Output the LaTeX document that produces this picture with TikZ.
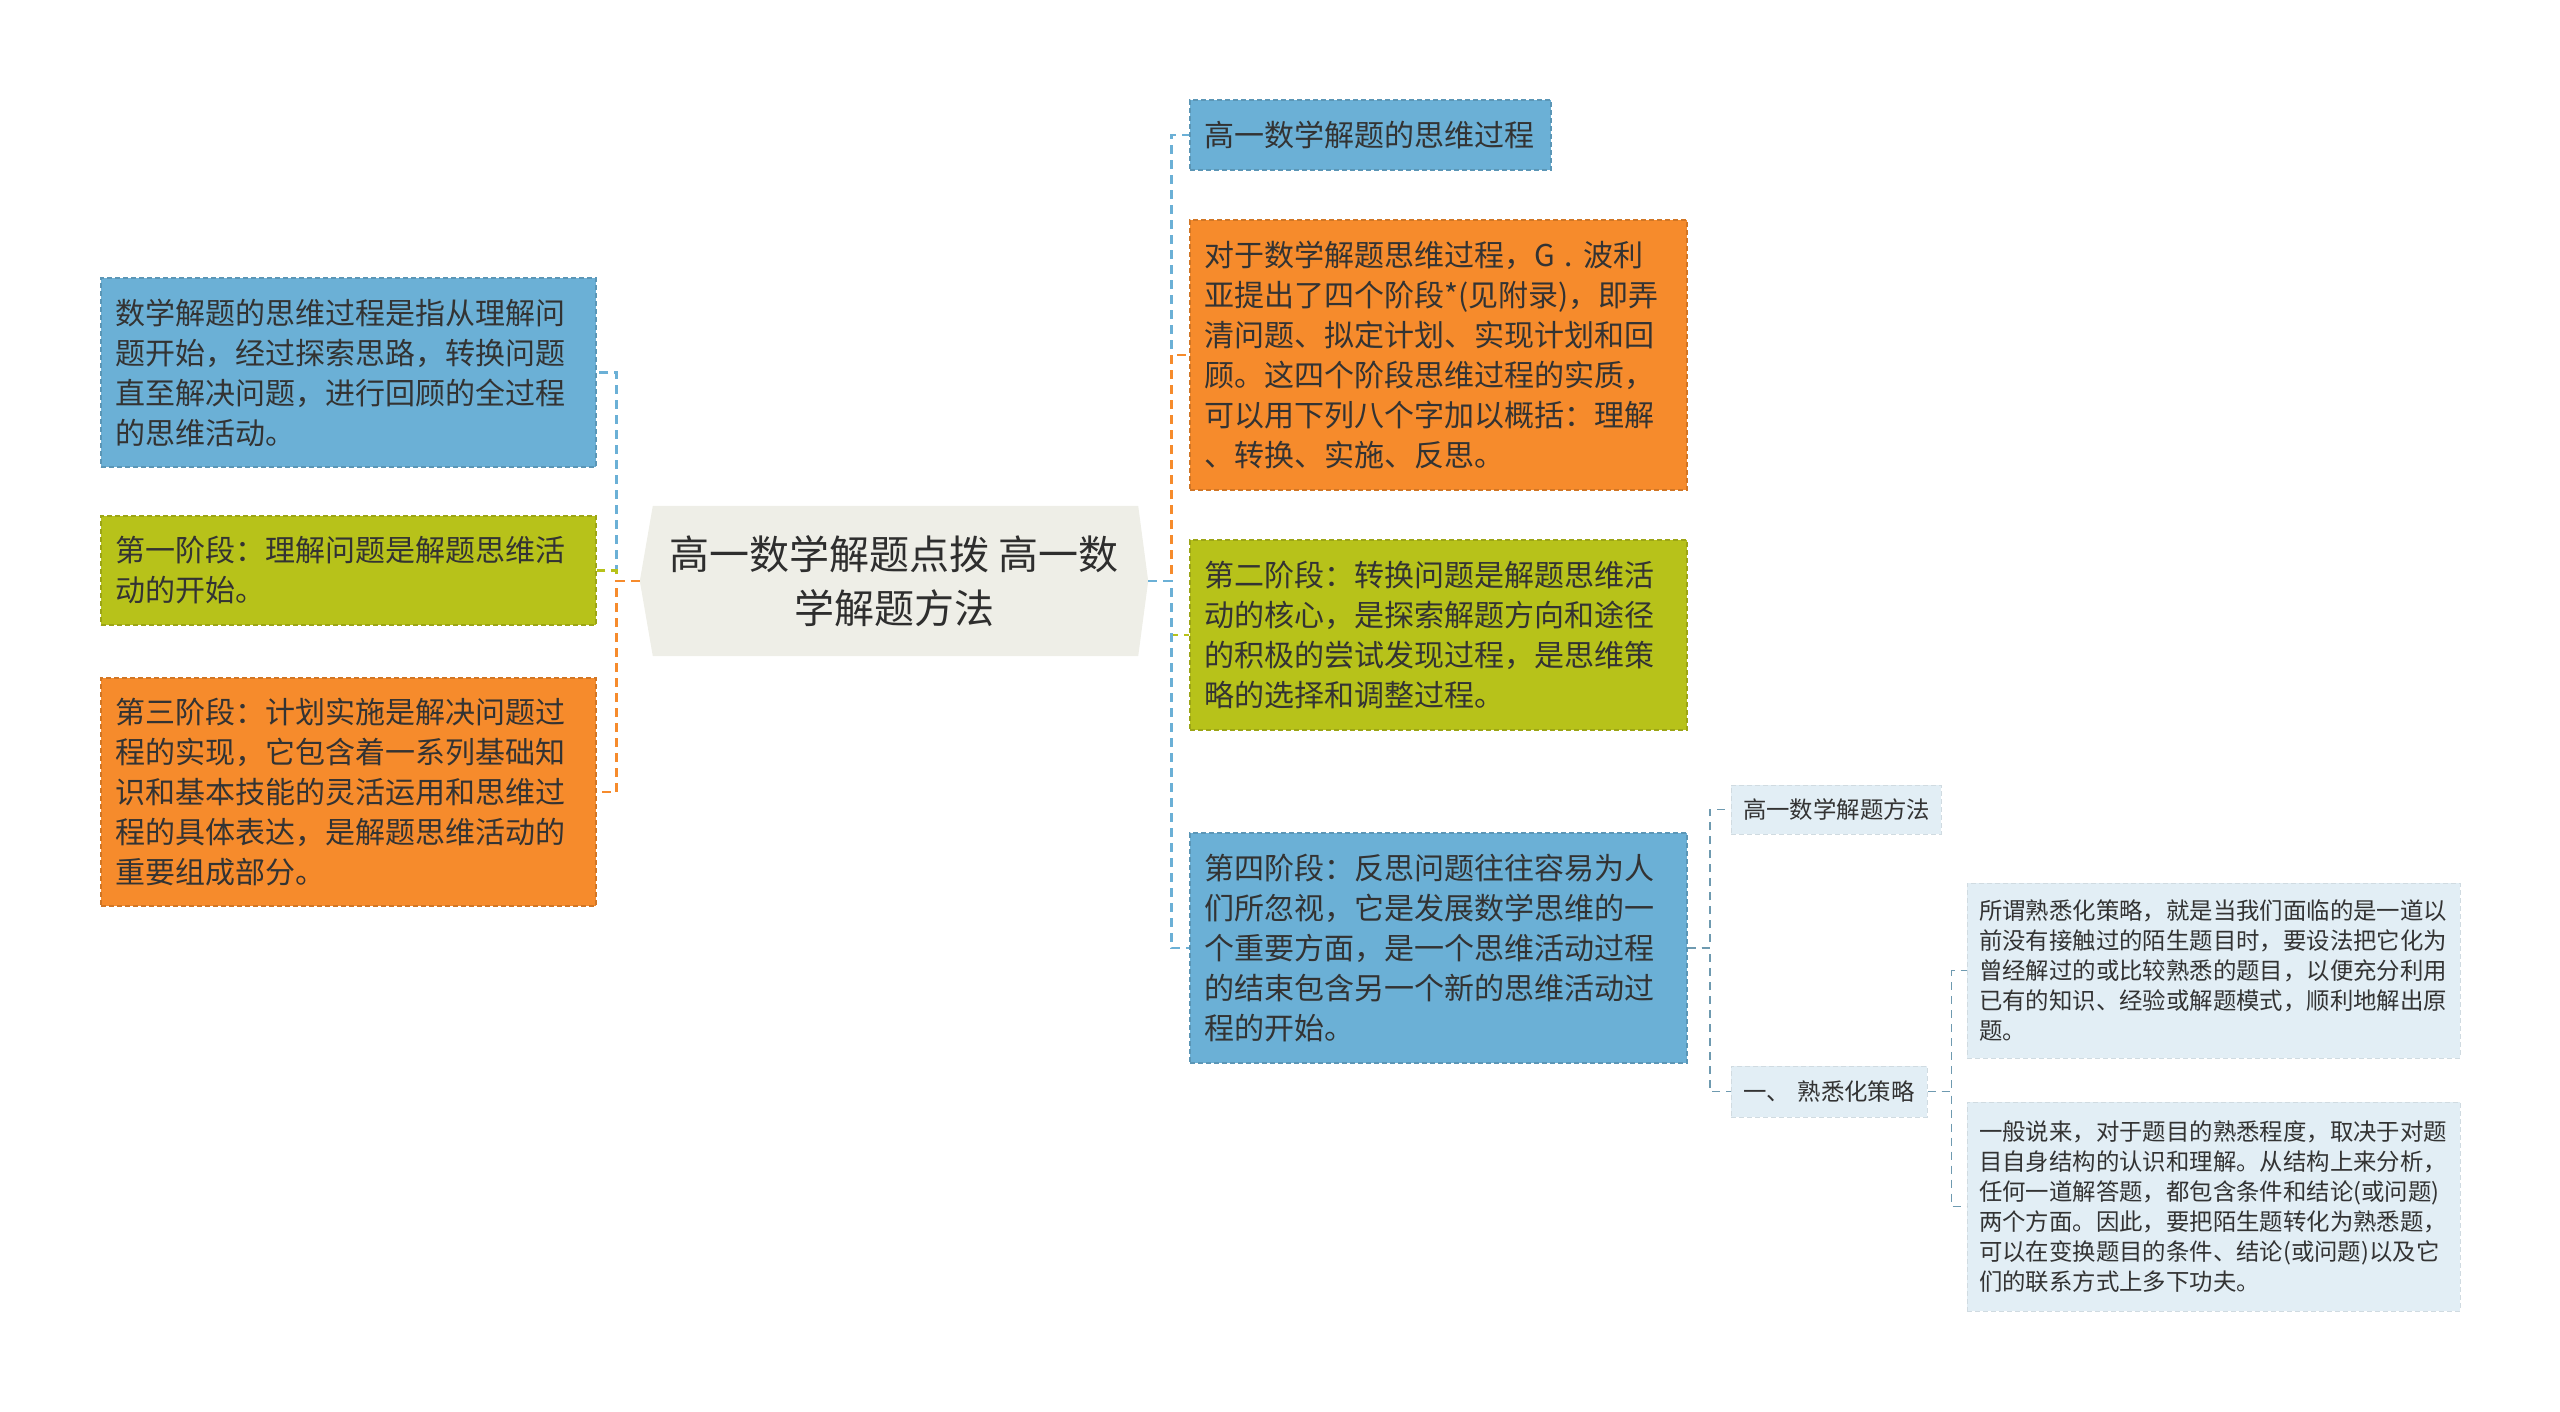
\documentclass[tikz,border=0pt]{standalone}
\usepackage{fontspec}
\setmainfont{Noto Sans CJK SC}
\usetikzlibrary{backgrounds}

\definecolor{cblue}{HTML}{6BB0D6}
\definecolor{corange}{HTML}{F68B2C}
\definecolor{cgreen}{HTML}{B7C21A}
\definecolor{cpale}{HTML}{E2EEF5}
\definecolor{croot}{HTML}{EEEEE7}
\definecolor{clink}{HTML}{6E9AB0}
\definecolor{ink}{HTML}{333333}

\begin{document}
\begin{tikzpicture}[x=1pt, y=-1pt,
    box/.style={fill=#1, draw=#1!85!black, dash pattern=on 5pt off 3pt, line width=1.2pt,
      text=ink, align=left, inner xsep=14pt, inner ysep=0pt,
      font=\fontsize{30}{40}\selectfont},
    subbox/.style={fill=cpale, draw=cpale!92!black, dash pattern=on 5pt off 3pt, line width=1pt,
      text=ink, align=left, inner xsep=12pt, inner ysep=0pt,
      font=\fontsize{23.4}{30}\selectfont},
    link/.style={draw=#1, line width=2.7pt, dash pattern=on 9pt off 6pt},
    sublink/.style={draw=clink, line width=1.8pt, dash pattern=on 8pt off 6pt}]

  \useasboundingbox (0,0) rectangle (2560,1412);

  % centre
  \node [align=center, text=ink!90!black, font=\fontsize{40}{54}\selectfont,
         minimum width=508, minimum height=150] (root) at (894,581)
        {高一数学解题点拨 高一数\\学解题方法};
  \begin{scope}[on background layer]
    \fill [croot] ([xshift=13pt]root.north west) -- ([xshift=-10pt]root.north east)
      -- (root.east) -- ([xshift=-10pt]root.south east)
      -- ([xshift=13pt]root.south west) -- (root.west) -- cycle;
  \end{scope}

  % left
  \node [box=cblue, text width=467, minimum height=189] (L1) at (348.5,372.5)
        {数学解题的思维过程是指从理解问\\题开始，经过探索思路，转换问题\\直至解决问题，进行回顾的全过程\\的思维活动。};
  \node [box=cgreen, text width=467, minimum height=109] (L2) at (348.5,570.5)
        {第一阶段：理解问题是解题思维活\\动的开始。};
  \node [box=corange, text width=467, minimum height=228] (L3) at (348.5,792)
        {第三阶段：计划实施是解决问题过\\程的实现，它包含着一系列基础知\\识和基本技能的灵活运用和思维过\\程的具体表达，是解题思维活动的\\重要组成部分。};

  % right
  \node [box=cblue, text width=333, minimum height=70] (R1) at (1370.5,135)
        {高一数学解题的思维过程};
  \node [box=corange, text width=469, minimum height=270] (R2) at (1438.5,355)
        {对于数学解题思维过程，G . 波利\\亚提出了四个阶段*(见附录)，即弄\\清问题、拟定计划、实现计划和回\\顾。这四个阶段思维过程的实质，\\可以用下列八个字加以概括：理解\\、转换、实施、反思。};
  \node [box=cgreen, text width=469, minimum height=190] (R3) at (1438.5,635)
        {第二阶段：转换问题是解题思维活\\动的核心，是探索解题方向和途径\\的积极的尝试发现过程，是思维策\\略的选择和调整过程。};
  \node [box=cblue, text width=469, minimum height=230] (R4) at (1438.5,948)
        {第四阶段：反思问题往往容易为人\\们所忽视，它是发展数学思维的一\\个重要方面，是一个思维活动过程\\的结束包含另一个新的思维活动过\\程的开始。};

  % fourth stage children
  \node [subbox, text width=186, minimum height=49] (S1) at (1836,809.5) {高一数学解题方法};
  \node [subbox, text width=172, minimum height=51] (S2) at (1829,1091.5) {一、 熟悉化策略};
  \node [subbox, text width=469, minimum height=175] (D1) at (2213.5,970.5)
        {所谓熟悉化策略，就是当我们面临的是一道以\\前没有接触过的陌生题目时，要设法把它化为\\曾经解过的或比较熟悉的题目，以便充分利用\\已有的知识、经验或解题模式，顺利地解出原\\题。};
  \node [subbox, text width=469, minimum height=209] (D2) at (2213.5,1206.5)
        {一般说来，对于题目的熟悉程度，取决于对题\\目自身结构的认识和理解。从结构上来分析，\\任何一道解答题，都包含条件和结论(或问题)\\两个方面。因此，要把陌生题转化为熟悉题，\\可以在变换题目的条件、结论(或问题)以及它\\们的联系方式上多下功夫。};

  % connectors
  \foreach \n/\c in {L1/cblue, L2/cgreen, L3/corange}{
      \draw [link=\c] (root.west) -- ++(-23,0) |- (\n.east);
    }
  \foreach \n/\c in {R1/cblue, R2/corange, R3/cgreen, R4/cblue}{
      \draw [link=\c] (root.east) -- ++(23,0) |- (\n.west);
    }
  \foreach \n in {S1,S2}{
      \draw [sublink] (R4.east) -- ++(22,0) |- (\n.west);
    }
  \foreach \n in {D1,D2}{
      \draw [sublink] (S2.east) -- ++(24,0) |- (\n.west);
    }

\end{tikzpicture}
\end{document}
